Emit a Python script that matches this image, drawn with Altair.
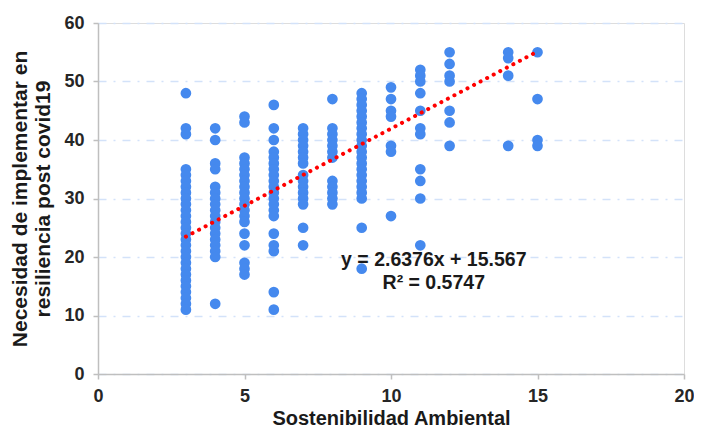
import altair as alt
import pandas as pd

# Values: y values for each x column
ys_3 = [48, 42, 41, 35, 34, 33, 32, 31, 30, 29, 28, 27, 26, 25, 24, 23, 22, 21, 20, 19, 18, 17, 16, 15, 14, 13, 12, 11]
ys_4 = [42, 40, 36, 35, 32, 31, 30, 29, 28, 27, 26, 25, 24, 23, 22, 21, 20, 12]
ys_5 = [44, 43, 37, 36, 35, 34, 33, 32, 31, 30, 29, 28, 27, 26, 24, 22, 19, 18, 17]
ys_6 = [46, 42, 40, 38, 37, 36, 35, 34, 33, 32, 31, 30, 29, 28, 27, 24, 22, 21, 14, 11]
ys_7 = [42, 41, 40, 39, 38, 37, 36, 34, 33, 32, 31, 30, 29, 25, 22]
ys_8 = [47, 42, 41, 40, 39, 38, 37, 33, 32, 31, 30, 29]
ys_9 = [48, 47, 46, 45, 44, 43, 42, 41, 40, 39, 38, 37, 36, 35, 34, 33, 32, 31, 30, 25, 18]
ys_10 = [49, 47, 45, 44, 39, 38, 27]
ys_11 = [52, 51, 50, 48, 45, 42, 41, 35, 33, 30, 22]
ys_12 = [55, 53, 51, 50, 45, 43, 39]
ys_14 = [55, 54, 51, 39]
ys_15 = [55, 47, 40, 39]

columns = {3: ys_3, 4: ys_4, 5: ys_5, 6: ys_6, 7: ys_7, 8: ys_8, 9: ys_9,
           10: ys_10, 11: ys_11, 12: ys_12, 14: ys_14, 15: ys_15}

# Trendline from the printed equation
slope = 2.6376
intercept = 15.567
trend_x = [3, 15]

eq_labels = ["y = 2.6376x + 15.567", "R² = 0.5747"]
eq_x = [11.46, 11.46]
eq_y = [19.5, 15.6]

x_ticks = [0, 5, 10, 15, 20]
y_ticks = [0, 10, 20, 30, 40, 50, 60]

rows = [{"x": x, "y": y} for x, ys in columns.items() for y in ys]
df = pd.DataFrame(rows)
trend = pd.DataFrame({"x": trend_x, "y": [slope * v + intercept for v in trend_x]})
ann = pd.DataFrame({"x": eq_x, "y": eq_y, "t": eq_labels})

FONT = "Liberation Sans"

xs = alt.Scale(domain=[0, 20], nice=False)
ysc = alt.Scale(domain=[0, 60], nice=False)

points = alt.Chart(df).mark_circle(size=115, color="#4589EE", opacity=1).encode(
    x=alt.X("x:Q", scale=xs, title="Sostenibilidad Ambiental",
            axis=alt.Axis(values=x_ticks, grid=False, domainColor="#bfbfbf", domainWidth=1.5,
                          tickColor="#bfbfbf", tickWidth=1.5, tickSize=5, labelFlush=False,
                          labelFont=FONT, labelFontSize=18, labelFontWeight="bold",
                          labelColor="#262626", labelPadding=8,
                          titleFont=FONT, titleFontSize=20, titleFontWeight="bold",
                          titleColor="#1a1a1a", titlePadding=3)),
    y=alt.Y("y:Q", scale=ysc, title=["Necesidad de implementar en", "resiliencia post covid19"],
            axis=alt.Axis(values=y_ticks, grid=True, gridColor="#d3e2f9", gridWidth=1.5,
                          gridDash=[8, 7, 2, 7], domainColor="#bfbfbf", domainWidth=1.5,
                          tickColor="#bfbfbf", tickWidth=1.5, tickSize=5, labelFlush=False,
                          labelFont=FONT, labelFontSize=18, labelFontWeight="bold",
                          labelColor="#262626", labelPadding=9,
                          titleFont=FONT, titleFontSize=21, titleFontWeight="bold",
                          titleColor="#1a1a1a", titlePadding=10, titleLineHeight=23)),
)

line = alt.Chart(trend).mark_line(color="#ff0000", strokeWidth=4, strokeDash=[0.1, 7.3],
                                  strokeCap="round").encode(
    x=alt.X("x:Q", scale=xs), y=alt.Y("y:Q", scale=ysc))

text = alt.Chart(ann).mark_text(font=FONT, fontSize=19.5, fontWeight="bold", color="#1a1a1a",
                                align="center", baseline="middle").encode(
    x=alt.X("x:Q", scale=xs), y=alt.Y("y:Q", scale=ysc), text="t:N")

chart = (points + line + text).properties(
    width=586, height=351,
    autosize=alt.AutoSizeParams(type="none"),
    padding={"left": 90, "top": 15, "right": 10, "bottom": 54},
).configure_view(stroke=None).configure(background="white")

chart.save("out.html", embed_options={"renderer": "svg", "actions": False})
